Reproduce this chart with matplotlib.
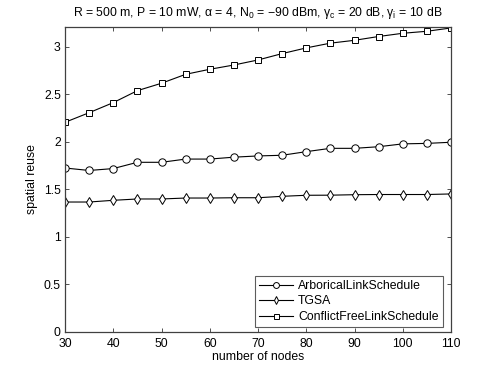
import matplotlib
matplotlib.use("Agg")
import matplotlib.pyplot as plt

plt.rcParams['font.family'] = ['Liberation Sans', 'DejaVu Sans']
plt.rcParams['mathtext.fontset'] = 'custom'
plt.rcParams['mathtext.rm'] = 'Liberation Sans'
plt.rcParams['mathtext.it'] = 'Liberation Sans'

nodes = [30, 35, 40, 45, 50, 55, 60, 65, 70, 75, 80, 85, 90, 95, 100, 105, 110]
arborical = [1.726, 1.70, 1.72, 1.786, 1.786, 1.82, 1.82, 1.84, 1.853, 1.86, 1.898,
             1.933, 1.933, 1.95, 1.98, 1.985, 1.997]
tgsa = [1.368, 1.368, 1.386, 1.40, 1.40, 1.41, 1.41, 1.413, 1.413, 1.428, 1.439,
        1.44, 1.445, 1.447, 1.447, 1.447, 1.453]
conflictfree = [2.207, 2.308, 2.414, 2.54, 2.618, 2.712, 2.765, 2.81, 2.863, 2.93,
                2.99, 3.04, 3.07, 3.11, 3.144, 3.165, 3.20]
xticks = [30, 40, 50, 60, 70, 80, 90, 100, 110]
yticks = [0, 0.5, 1, 1.5, 2, 2.5, 3]

fig = plt.figure(figsize=(4.98, 3.75), dpi=100)
ax = fig.add_axes([65/498, 43/375, 386/498, 305/375])

fs = 8.8
kw = dict(color='black', lw=0.8, markerfacecolor='white', markeredgecolor='black', markeredgewidth=0.7)
ax.plot(nodes, arborical, marker='o', ms=5.3, label='ArboricalLinkSchedule', **kw)
ax.plot(nodes, tgsa, marker='d', ms=5.3, label='TGSA', **kw)
ax.plot(nodes, conflictfree, marker='s', ms=4.5, label='ConflictFreeLinkSchedule', **kw)

ax.set_xlim(30, 110)
ax.set_ylim(0, 3.21)
ax.set_xticks(xticks)
ax.set_yticks(yticks)
ax.set_yticklabels(['0', '0.5', '1', '1.5', '2', '2.5', '3'])
ax.tick_params(direction='in', top=True, right=True, labelsize=fs, length=3, width=0.6,
               color='#333333')
ax.tick_params(axis='x', pad=4)
ax.tick_params(axis='y', pad=3)
for s in ax.spines.values():
    s.set_color('#404040')
    s.set_linewidth(0.9)

ax.set_xlabel('number of nodes', fontsize=fs, labelpad=1)
ax.set_ylabel('spatial reuse', fontsize=fs, labelpad=4)
ax.set_title(r'R = 500 m, P = 10 mW, $\alpha$ = 4, N$_0$ = $-$90 dBm, $\gamma_c$ = 20 dB, $\gamma_i$ = 10 dB',
             fontsize=fs, pad=8)

leg = ax.legend(loc='lower right', bbox_to_anchor=(0.979, 0.016), fontsize=fs, frameon=True,
                fancybox=False, handlelength=2.8, markerscale=0.8,
                borderaxespad=0, handletextpad=0.4, labelspacing=0.28, borderpad=0.35)
leg.get_frame().set_edgecolor('#333333')
leg.get_frame().set_linewidth(0.8)

fig.savefig('out.png', dpi=100)
